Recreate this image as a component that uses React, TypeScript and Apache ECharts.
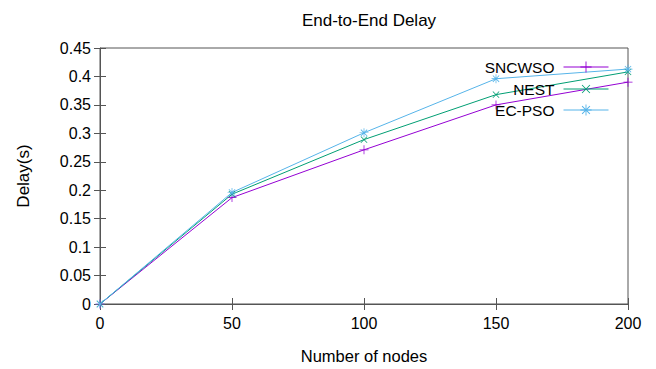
import React, { useEffect, useRef } from "react";
import * as echarts from "echarts";

const nodes = [0, 50, 100, 150, 200];
const sncwso = [0, 0.187, 0.271, 0.35, 0.39];
const nest = [0, 0.193, 0.289, 0.368, 0.408];
const ecpso = [0, 0.196, 0.301, 0.396, 0.413];
const seriesNames = ["SNCWSO", "NEST", "EC-PSO"];
const colors = ["#9400d3", "#009e73", "#56b4e9"];

const PLUS = "path://M0,4.6h10v0.8h-10z M4.6,0h0.8v10h-0.8z";
const STAR = "path://M0,4.6h10v0.8h-10z M4.6,0h0.8v10h-0.8z M1.2,1.8L1.8,1.2L8.8,8.2L8.2,8.8z M8.2,1.2L8.8,1.8L1.8,8.8L1.2,8.2z";

const FONT = "Liberation Sans";

export default function App() {
  const ref = useRef<HTMLDivElement>(null);
  useEffect(() => {
    if (!ref.current) return;
    const chart = echarts.init(ref.current, undefined, { renderer: "svg" });
    const axisColor = "#555";
    const mk = (name: string, data: number[], color: string, symbol: string, rot: number) => ({
      name,
      type: "line",
      data: nodes.map((x, i) => [x, data[i]]),
      symbol,
      symbolSize: 9,
      symbolRotate: rot,
      showSymbol: true,
      lineStyle: { color, width: 1 },
      itemStyle: { color },
      z: 3,
    });
    const legendTops = [59, 81, 102];
    chart.setOption({
      animation: false,
      title: {
        text: "End-to-End Delay",
        left: 364,
        textAlign: "center",
        top: 7,
        textStyle: { fontFamily: FONT, fontSize: 17, fontWeight: "normal", color: "#000" },
      },
      legend: seriesNames.map((n, i) => ({
        data: [n],
        orient: "vertical",
        align: "right",
        right: 47,
        top: legendTops[i],
        itemWidth: 45,
        itemHeight: 14,
        itemGap: 0,
        padding: 0,
        lineStyle: { width: 1 },
        textStyle: { fontFamily: FONT, fontSize: 15.5, color: "#000", padding: [0, 4, 0, 0] },
      })),
      grid: { left: 100, right: 28, top: 48, bottom: 64, show: true, borderColor: axisColor, borderWidth: 1 },
      xAxis: [
        {
          type: "value",
          min: 0,
          max: 200,
          interval: 50,
          name: "Number of nodes",
          nameLocation: "middle",
          nameGap: 43,
          nameTextStyle: { fontFamily: FONT, fontSize: 16.5, color: "#000" },
          axisLine: { lineStyle: { color: axisColor } },
          axisTick: { inside: true, length: 6, lineStyle: { color: axisColor } },
          axisLabel: { fontFamily: FONT, fontSize: 16, color: "#000", margin: 11 },
          splitLine: { show: false },
        },
        {
          type: "value",
          position: "top",
          min: 0,
          max: 200,
          interval: 50,
          axisLine: { show: false },
          axisTick: { inside: true, length: 6, lineStyle: { color: axisColor } },
          axisLabel: { show: false },
          splitLine: { show: false },
        },
      ],
      yAxis: [
        {
          type: "value",
          min: 0,
          max: 0.45,
          interval: 0.05,
          name: "Delay(s)",
          nameLocation: "middle",
          nameGap: 68,
          nameRotate: 90,
          nameTextStyle: { fontFamily: FONT, fontSize: 17, color: "#000" },
          axisLine: { show: true, lineStyle: { color: axisColor } },
          axisTick: { show: true, inside: true, length: 6, lineStyle: { color: axisColor } },
          axisLabel: {
            fontFamily: FONT,
            fontSize: 16,
            color: "#000",
            margin: 9,
            formatter: (v: number) => String(Math.round(v * 100) / 100),
          },
          splitLine: { show: false },
        },
        {
          type: "value",
          position: "right",
          min: 0,
          max: 0.45,
          interval: 0.05,
          axisLine: { show: false },
          axisTick: { show: true, inside: true, length: 6, lineStyle: { color: axisColor } },
          axisLabel: { show: false },
          splitLine: { show: false },
        },
      ],
      series: [
        mk(seriesNames[0], sncwso, colors[0], PLUS, 0),
        mk(seriesNames[1], nest, colors[1], PLUS, 45),
        mk(seriesNames[2], ecpso, colors[2], STAR, 0),
      ],
    });
    return () => chart.dispose();
  }, []);
  return <div ref={ref} style={{ width: 656, height: 369, position: "absolute", left: 0, top: 0, background: "#fff" }} />;
}
